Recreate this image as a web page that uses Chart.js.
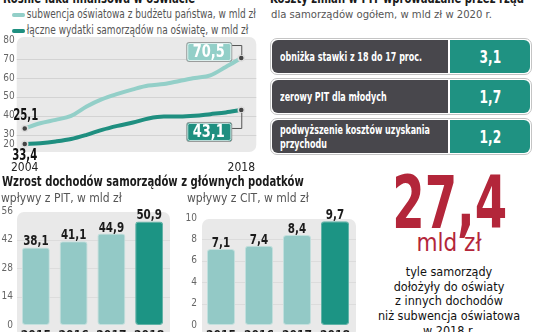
<!DOCTYPE html>
<html lang="pl">
<head>
<meta charset="UTF-8">
<title>Luka finansowa w oświacie</title>
<script src="https://cdn.jsdelivr.net/npm/chart.js"></script>
<style>
  body { margin: 0; background: #fff; }
  #page {
    position: relative; width: 536px; height: 332px; overflow: hidden; background: #fff;
    font-family: 'DejaVu Sans Condensed', 'DejaVu Sans', sans-serif; color: #1b1b1b;
  }
  .abs { position: absolute; white-space: nowrap; }
  .title { font-weight: bold; font-size: 14px; line-height: 16px; transform: scaleX(0.8); transform-origin: left top; }
  .sub { font-size: 11.2px; color: #555; line-height: 14px; }
  .legend { font-size: 11.5px; color: #555; line-height: 16px; transform: scaleX(0.87); transform-origin: left top; }
  .sw { display: inline-block; width: 15px; height: 4px; border-radius: 2px; vertical-align: middle; margin-right: 2px; }
  canvas { position: absolute; }
  .row {
    position: absolute; left: 270px; width: 258px; height: 33px; border: 1px solid #c4c4c4;
    border-radius: 7px; padding: 1px; display: flex; gap: 2px;
  }
  .row .lab {
    width: 176px; flex-shrink: 0; background: #48474c; border-radius: 6px 0 0 6px; color: #fff; font-weight: bold;
    font-size: 12px; line-height: 14px; display: flex; align-items: center; padding-left: 8px; box-sizing: border-box;
  }
  .row .lab span { display: inline-block; flex-shrink: 0; width: 215px; white-space: normal; transform: scaleX(0.74); transform-origin: left center; }
  .row .val {
    flex: 1; background: #1f9282; border-radius: 0 6px 6px 0; color: #fff; font-weight: bold;
    font-size: 18px; display: flex; align-items: center; justify-content: center;
  }
  .row .val span { display: inline-block; transform: scaleX(0.75); }
  #big { left: 369px; width: 160px; top: 166px; text-align: center; font-size: 73px; line-height: 73px; font-weight: bold; color: #b3263a; transform: scaleX(0.71); }
  #unit { left: 369px; width: 160px; top: 231px; text-align: center; font-size: 24px; line-height: 24px; color: #b3263a; }
  #note { left: 359px; width: 180px; top: 265px; text-align: center; font-size: 12.5px; line-height: 14.7px; color: #111; white-space: normal; }
</style>
</head>
<body>
<div id="page">
  <div class="abs title" style="left:3px; top:-10px;">Rośnie luka finansowa w oświacie</div>
  <div class="abs legend" style="left:12px; top:6px;"><span class="sw" style="background:#93cfc8"></span>subwencja oświatowa z budżetu państwa, w mld zł</div>
  <div class="abs legend" style="left:12px; top:22px;"><span class="sw" style="background:#1f8f80"></span>łączne wydatki samorządów na oświatę, w mld zł</div>
  <canvas id="lineChart" width="266" height="180" style="left:0; top:0;"></canvas>

  <div class="abs title" style="left:270px; top:-10px;">Koszty zmian w PIT wprowadzane przez rząd</div>
  <div class="abs sub" style="left:271px; top:8px;">dla samorządów ogółem, w mld zł w 2020 r.</div>
  <div id="costTable"></div>

  <div class="abs title" style="left:2px; top:173px;">Wzrost dochodów samorządów z głównych podatków</div>
  <div class="abs sub" style="left:1px; top:191px; font-size:12px;">wpływy z PIT, w mld zł</div>
  <div class="abs sub" style="left:187px; top:191px; font-size:12px;">wpływy z CIT, w mld zł</div>
  <canvas id="pitChart" width="170" height="150" style="left:0; top:200px;"></canvas>
  <canvas id="citChart" width="176" height="150" style="left:180px; top:200px;"></canvas>

  <div class="abs" id="big">27,4</div>
  <div class="abs" id="unit">mld zł</div>
  <div class="abs" id="note">tyle samorządy<br>dołożyły do oświaty<br>z innych dochodów<br>niż subwencja oświatowa<br>w 2018 r.</div>
</div>
<script>
  // wykres liniowy
  const years = ['2004', '2005', '2006', '2007', '2008', '2009', '2010', '2011', '2012', '2013', '2014', '2015', '2016', '2017', '2018'];
  const subwencja = [33.4, 36.1, 37.9, 40.0, 44.9, 48.8, 51.6, 54.0, 56.0, 56.8, 58.4, 60.0, 61.4, 65.8, 70.5];
  const wydatki = [25.1, 25.6, 26.5, 27.8, 30.0, 32.6, 34.7, 36.5, 38.6, 39.6, 39.6, 40.0, 40.9, 41.8, 43.1];
  const startLabels = ['25,1', '33,4'];
  const lineTickValues = [25, 30, 40, 50, 60, 70, 80];
  const lineTickLabels = ['20', '30', '40', '50', '60', '70', '80'];

  // tabela PIT
  const costLabels = ['obniżka stawki z 18 do 17 proc.', 'zerowy PIT dla młodych', 'podwyższenie kosztów uzyskania przychodu'];
  const costValues = [3.1, 1.7, 1.2];

  // słupki
  const barYears = ['2015', '2016', '2017', '2018'];
  const pitValues = [38.1, 41.1, 44.9, 50.9];
  const citValues = [7.1, 7.4, 8.4, 9.7];

  const FONT = "'DejaVu Sans Condensed', 'DejaVu Sans', sans-serif";
  const LIGHT = '#93cfc8';
  const DARK = '#1f8f80';
  const fmt = v => v.toFixed(1).replace('.', ',');

  // tekst zwężony w poziomie
  function narrowText(ctx, text, x, y, sx) {
    ctx.save();
    ctx.translate(x, y);
    ctx.scale(sx, 1);
    ctx.fillText(text, 0, 0);
    ctx.restore();
  }

  // tabela
  const table = document.getElementById('costTable');
  costLabels.forEach((lab, i) => {
    const row = document.createElement('div');
    row.className = 'row';
    row.style.top = (38 + i * 40) + 'px';
    row.innerHTML = '<div class="lab"><span>' + lab + '</span></div><div class="val"><span>' + fmt(costValues[i]) + '</span></div>';
    table.appendChild(row);
  });

  const lineDecor = {
    id: 'lineDecor',
    beforeDraw(chart) {
      const { ctx, chartArea: a, scales: { y } } = chart;
      ctx.save();
      ctx.fillStyle = '#e9e9e9';
      ctx.beginPath();
      ctx.roundRect(a.left - 8, a.top - 3, a.right - a.left + 23, a.bottom - a.top + 5, 7);
      ctx.fill();
      ctx.strokeStyle = '#d3d3d3';
      ctx.lineWidth = 1;
      lineTickValues.slice(1, -1).forEach(v => {
        const py = Math.round(y.getPixelForValue(v)) + 0.5;
        ctx.beginPath();
        ctx.moveTo(a.left - 8, py);
        ctx.lineTo(a.right + 15, py);
        ctx.stroke();
      });
      ctx.restore();
    },
    afterDatasetsDraw(chart) {
      const ctx = chart.ctx;
      const last = years.length - 1;
      const up = chart.getDatasetMeta(0).data;
      const down = chart.getDatasetMeta(1).data;
      ctx.save();
      callout(ctx, up[last].x, up[last].y, -16, -13, LIGHT, fmt(subwencja[last]));
      callout(ctx, down[last].x, down[last].y, 12, 18, DARK, fmt(wydatki[last]));
      ctx.fillStyle = '#111';
      ctx.font = 'bold 15px ' + FONT;
      ctx.textAlign = 'center';
      ctx.textBaseline = 'middle';
      narrowText(ctx, startLabels[0], up[0].x + 1, up[0].y - 12, 0.75);
      narrowText(ctx, startLabels[1], down[0].x, down[0].y + 12, 0.75);
      ctx.restore();
    }
  };

  function callout(ctx, px, py, boxOff, lineOff, color, text) {
    const w = 45, h = 19, right = px - 10;
    ctx.strokeStyle = '#555';
    ctx.lineWidth = 1;
    ctx.beginPath();
    ctx.moveTo(right, py + lineOff + 0.5);
    ctx.lineTo(px + 0.5, py + lineOff + 0.5);
    ctx.lineTo(px + 0.5, py + (lineOff < 0 ? -3 : 3));
    ctx.stroke();
    ctx.fillStyle = color;
    ctx.strokeStyle = '#9a9a9a';
    ctx.beginPath();
    ctx.roundRect(right - w + 0.5, py + boxOff + 0.5, w, h, 2);
    ctx.fill();
    ctx.stroke();
    ctx.strokeStyle = 'rgba(255,255,255,0.7)';
    ctx.beginPath();
    ctx.roundRect(right - w + 1.5, py + boxOff + 1.5, w - 2, h - 2, 2);
    ctx.stroke();
    ctx.fillStyle = '#fff';
    ctx.font = 'bold 17px ' + FONT;
    ctx.textAlign = 'center';
    ctx.textBaseline = 'middle';
    narrowText(ctx, text, right - w / 2, py + boxOff + h / 2 + 1, 0.85);
  }

  const endPoint = c => (c.dataIndex === 0 || c.dataIndex === years.length - 1) ? 3 : 0;

  new Chart(document.getElementById('lineChart'), {
    type: 'line',
    data: {
      labels: years,
      datasets: [
        { data: subwencja, borderColor: LIGHT, borderWidth: 4, cubicInterpolationMode: 'monotone',
          pointRadius: endPoint, pointBackgroundColor: '#444', pointBorderColor: '#ddd', pointBorderWidth: 1.5 },
        { data: wydatki, borderColor: DARK, borderWidth: 4, cubicInterpolationMode: 'monotone',
          pointRadius: endPoint, pointBackgroundColor: '#444', pointBorderColor: '#ddd', pointBorderWidth: 1.5 }
      ]
    },
    options: {
      responsive: false,
      animation: false,
      layout: { padding: { top: 40, right: 19 } },
      plugins: { legend: { display: false }, tooltip: { enabled: false } },
      scales: {
        x: {
          grid: { display: false, drawTicks: false }, border: { display: false },
          ticks: {
            autoSkip: false, maxRotation: 0, padding: 11, color: '#222', font: { family: FONT, size: 12 },
            callback: (v, i) => (i === 0 || i === years.length - 1) ? years[i] : ''
          },
          afterFit: s => { s.height = 30; }
        },
        y: {
          min: 22, max: 80,
          afterBuildTicks: s => { s.ticks = lineTickValues.map(v => ({ value: v })); },
          grid: { display: false, drawTicks: false }, border: { display: false },
          ticks: { padding: 10, color: '#666', font: { family: FONT, size: 10 },
            callback: v => lineTickLabels[lineTickValues.indexOf(v)] },
          afterFit: s => { s.width = 22; }
        }
      }
    },
    plugins: [lineDecor]
  });

  const barDecor = {
    id: 'barDecor',
    beforeDraw(chart) {
      const { ctx, chartArea: a, scales: { y } } = chart;
      ctx.save();
      ctx.fillStyle = '#e9e9e9';
      ctx.beginPath();
      ctx.roundRect(a.left, a.top + 1, a.right - a.left + 2, a.bottom - a.top + 12, 7);
      ctx.fill();
      ctx.strokeStyle = '#dcdcdc';
      y.ticks.slice(1, -1).forEach(t => {
        const py = Math.round(y.getPixelForValue(t.value)) + 0.5;
        ctx.beginPath();
        ctx.moveTo(a.left, py);
        ctx.lineTo(a.right + 2, py);
        ctx.stroke();
      });
      ctx.restore();
    },
    afterDatasetsDraw(chart) {
      const ctx = chart.ctx;
      const values = chart.data.datasets[0].data;
      ctx.save();
      ctx.fillStyle = '#1b1b1b';
      ctx.font = 'bold 14px ' + FONT;
      ctx.textAlign = 'center';
      ctx.textBaseline = 'alphabetic';
      chart.getDatasetMeta(0).data.forEach((bar, i) => {
        narrowText(ctx, fmt(values[i]), bar.x, bar.y - 2, 0.82);
      });
      ctx.restore();
    }
  };

  function barChart(id, values, max, step, padTop, axisWidth, tickPad) {
    return new Chart(document.getElementById(id), {
      type: 'bar',
      data: {
        labels: barYears,
        datasets: [{
          data: values,
          backgroundColor: values.map((v, i) => i === values.length - 1 ? '#1c9484' : '#93c9c6'),
          borderColor: values.map((v, i) => i === values.length - 1 ? '#5fb2a6' : '#c3e0dd'),
          borderWidth: 1, borderRadius: 3, borderSkipped: false,
          barPercentage: 0.74, categoryPercentage: 1
        }]
      },
      options: {
        responsive: false,
        animation: false,
        layout: { padding: { top: padTop, right: 2 } },
        plugins: { legend: { display: false }, tooltip: { enabled: false } },
        scales: {
          x: {
            grid: { display: false, drawTicks: false }, border: { display: false },
            ticks: { padding: 4, color: '#1b1b1b', font: { family: FONT, size: 12, weight: 'bold' } },
            afterFit: s => { s.height = 25; }
          },
          y: {
            min: 0, max: max,
            grid: { display: false, drawTicks: false }, border: { display: false },
            ticks: { stepSize: step, padding: tickPad, color: '#666', font: { family: FONT, size: 10 } },
            afterFit: s => { s.width = axisWidth; }
          }
        }
      },
      plugins: [barDecor]
    });
  }

  barChart('pitChart', pitValues, 56, 14, 11, 17, 4);
  barChart('citChart', citValues, 10, 2, 18, 22, 5);
</script>
</body>
</html>
